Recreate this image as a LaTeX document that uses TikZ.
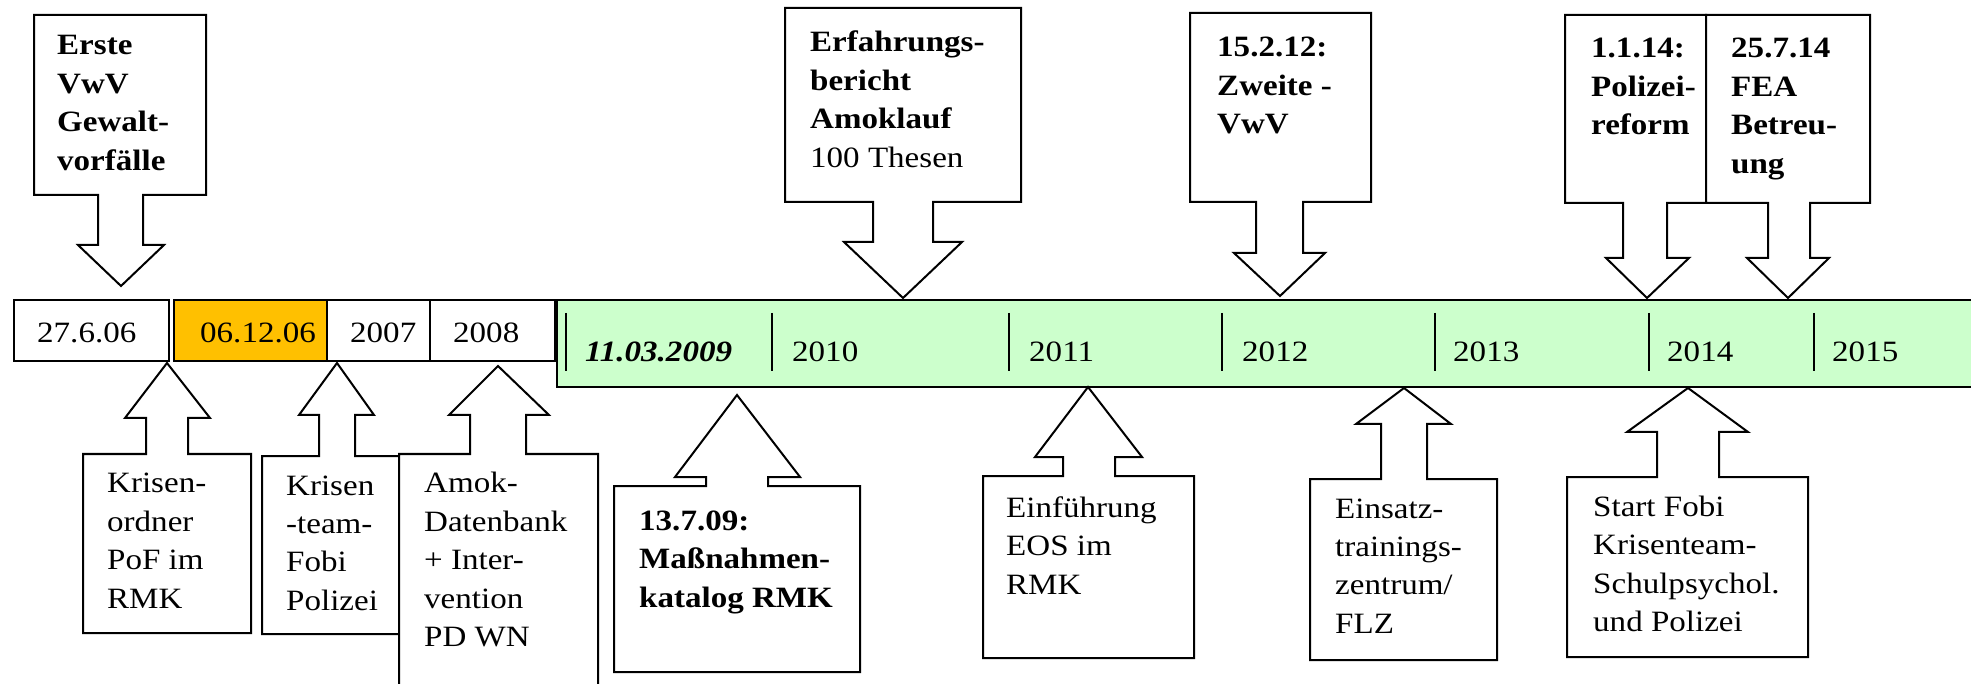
\documentclass[tikz,border=0pt]{standalone}
\usepackage{fontspec}
\setmainfont{Liberation Serif}[FakeStretch=1.12]
\definecolor{tlgreen}{RGB}{204,255,204}
\definecolor{tlorange}{RGB}{255,192,0}
\tikzset{
  callout/.style={draw=black, fill=white, line width=2pt, line join=miter},
  cellbox/.style={draw=black, line width=2pt},
  tickline/.style={draw=black, line width=2pt},
  lbl/.style={inner sep=0pt, anchor=base west, font=\fontsize{29.5}{38.5}\selectfont},
}
\newcommand\mylines[1]{\parbox[t]{300pt}{\raggedright #1}}
\begin{document}
\begin{tikzpicture}[x=1pt,y=-1pt]
\useasboundingbox (0,0) rectangle (1971,684);
\clip (0,0) rectangle (1971,684);
\fill[white] (0,0) rectangle (1971,684);

% ---- timeline cells
\draw[cellbox] (14,300) rectangle (169,361);
\draw[cellbox, fill=tlorange] (174,300) rectangle (327,361);
\draw[cellbox] (327,300) rectangle (430,361);
\draw[cellbox] (430,300) rectangle (555,361);
\draw[cellbox, fill=tlgreen] (557,300) rectangle (1990,387);
\foreach \t in {566,772,1009,1222,1435,1649,1814}
  \draw[tickline] (\t,313) -- (\t,371);

\node[lbl] (c1) at (37,343) {27.6.06};
\node[lbl] (c2) at (200,343) {06.12.06};
\node[lbl] (c3) at (350,343) {2007};
\node[lbl] (c4) at (453,343) {2008};
\node[lbl] (y09) at (585,362) {\textbf{\textit{11.03.2009}}};
\node[lbl] (y10) at (792,362) {2010};
\node[lbl] (y11) at (1029,362) {2011};
\node[lbl] (y12) at (1242,362) {2012};
\node[lbl] (y13) at (1453,362) {2013};
\node[lbl] (y14) at (1667,362) {2014};
\node[lbl] (y15) at (1832,362) {2015};

% ---- top callouts (pointing down)
\draw[callout] (34,15) -- (206,15) -- (206,195) -- (143,195) -- (143,245) -- (164,245) -- (121,286)
  -- (78,245) -- (98,245) -- (98,195) -- (34,195) -- cycle;
\draw[callout] (785,8) -- (1021,8) -- (1021,202) -- (933,202) -- (933,242) -- (962,242) -- (903,298)
  -- (844,242) -- (873,242) -- (873,202) -- (785,202) -- cycle;
\draw[callout] (1190,13) -- (1371,13) -- (1371,202) -- (1303,202) -- (1303,253) -- (1325,253) -- (1280,296)
  -- (1234,253) -- (1256,253) -- (1256,202) -- (1190,202) -- cycle;
\draw[callout] (1565,15) -- (1706,15) -- (1706,203) -- (1667,203) -- (1667,258) -- (1689,258) -- (1647,298)
  -- (1606,258) -- (1623,258) -- (1623,203) -- (1565,203) -- cycle;
\draw[callout] (1706,15) -- (1870,15) -- (1870,203) -- (1810,203) -- (1810,258) -- (1829,258) -- (1788,298)
  -- (1747,258) -- (1768,258) -- (1768,203) -- (1706,203) -- cycle;

% ---- bottom callouts (pointing up)
\draw[callout] (83,633) -- (83,454) -- (146,454) -- (146,418) -- (125,418) -- (167,363)
  -- (210,418) -- (188,418) -- (188,454) -- (251,454) -- (251,633) -- cycle;
\draw[callout] (262,634) -- (262,456) -- (319,456) -- (319,415) -- (299,415) -- (337,363)
  -- (374,415) -- (355,415) -- (355,456) -- (399,456) -- (399,634) -- cycle;
\draw[callout] (399,700) -- (399,454) -- (470,454) -- (470,415) -- (449,415) -- (498,366)
  -- (549,415) -- (526,415) -- (526,454) -- (598,454) -- (598,700) -- cycle;
\draw[callout] (614,672) -- (614,486) -- (706,486) -- (706,477) -- (675,477) -- (737,395)
  -- (800,477) -- (768,477) -- (768,486) -- (860,486) -- (860,672) -- cycle;
\draw[callout] (983,658) -- (983,476) -- (1063,476) -- (1063,457) -- (1035,457) -- (1088,387)
  -- (1142,457) -- (1115,457) -- (1115,476) -- (1194,476) -- (1194,658) -- cycle;
\draw[callout] (1310,660) -- (1310,479) -- (1381,479) -- (1381,424) -- (1356,424) -- (1404,388)
  -- (1451,424) -- (1427,424) -- (1427,479) -- (1497,479) -- (1497,660) -- cycle;
\draw[callout] (1567,657) -- (1567,477) -- (1657,477) -- (1657,432) -- (1627,432) -- (1688,388)
  -- (1748,432) -- (1719,432) -- (1719,477) -- (1808,477) -- (1808,657) -- cycle;

% ---- texts
\node[lbl] (erste) at (57,55) {\mylines{\bfseries Erste\\VwV\\Gewalt-\\vorfälle}};
\node[lbl] (erf) at (810,52) {\mylines{\textbf{Erfahrungs-}\\\textbf{bericht}\\\textbf{Amoklauf}\\100 Thesen}};
\node[lbl] (zweite) at (1217,57) {\mylines{\bfseries 15.2.12:\\Zweite -\\VwV}};
\node[lbl] (pol) at (1591,58) {\mylines{\bfseries 1.1.14:\\Polizei-\\reform}};
\node[lbl] (fea) at (1731,58) {\mylines{\bfseries 25.7.14\\FEA\\Betreu-\\ung}};

\node[lbl] (ordner) at (107,493) {\mylines{Krisen-\\ordner\\PoF im\\RMK}};
\node[lbl] (team) at (286,495) {\mylines{Krisen\\-team-\\Fobi\\Polizei}};
\node[lbl] (amok) at (424,493) {\mylines{Amok-\\Datenbank\\+ Inter-\\vention\\PD WN}};
\node[lbl] (mass) at (639,530) {\mylines{\bfseries 13.7.09:\\Maßnahmen-\\katalog RMK}};
\node[lbl] (eos) at (1006,517) {\mylines{Einführung\\EOS im\\RMK}};
\node[lbl] (einsatz) at (1335,518) {\mylines{Einsatz-\\trainings-\\zentrum/\\FLZ}};
\node[lbl] (fobi) at (1593,516) {\mylines{Start Fobi\\Krisenteam-\\Schulpsychol.\\und Polizei}};
\end{tikzpicture}
\end{document}
